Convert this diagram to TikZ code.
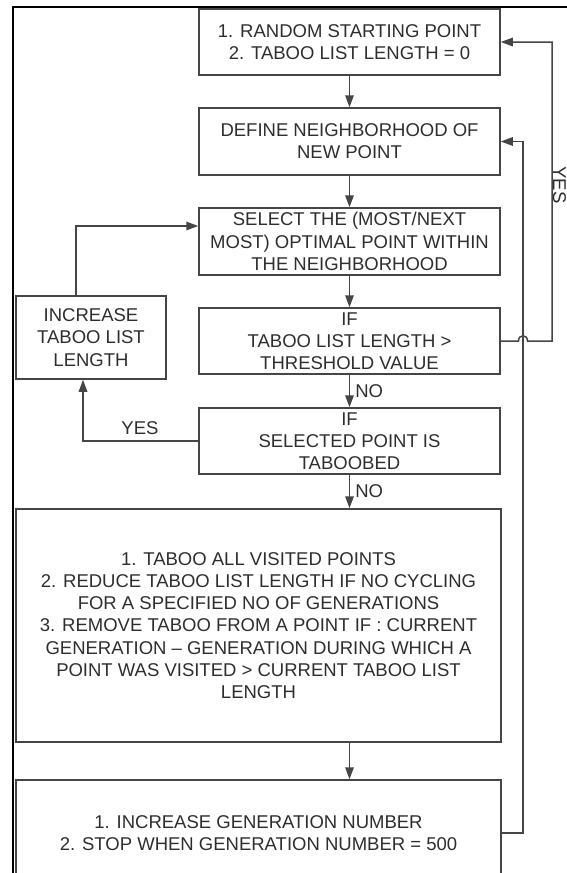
\documentclass[tikz,border=0pt]{standalone}
\usepackage{fontspec}
\setmainfont{Liberation Sans}
\usetikzlibrary{arrows.meta,calc}
\definecolor{boxline}{HTML}{454545}
\definecolor{txt}{HTML}{2E2E2E}
\begin{document}
\begin{tikzpicture}[x=1pt,y=-1pt,
  box/.style={draw=boxline,line width=1.5pt,inner sep=0pt,align=center,text=txt,
    font=\fontsize{18.5}{22.2}\selectfont},
  arr/.style={draw=boxline,line width=1.5pt,-{Triangle[length=12pt,width=8.5pt]}},
  lbl/.style={text=txt,inner sep=0pt,font=\fontsize{18.5}{22.2}\selectfont}]
\useasboundingbox (0,0) rectangle (567,873);
\clip (0,0) rectangle (567,873);
\fill[white] (0,0) rectangle (567,873);
% frame
\draw[black,line width=2.6pt] (13,873) -- (13,7) -- (567,7);
% boxes
\node[box,minimum width=301pt,minimum height=66pt] (b1) at (349.5,42) {1. RANDOM STARTING POINT\\2. TABOO LIST LENGTH = 0};
\node[box,minimum width=301pt,minimum height=67pt] (b2) at (349.5,141.5) {DEFINE NEIGHBORHOOD OF\\NEW POINT};
\node[box,minimum width=301pt,minimum height=67pt] (b3) at (349.5,241.5) {SELECT THE (MOST/NEXT\\MOST) OPTIMAL POINT WITHIN\\THE NEIGHBORHOOD};
\node[box,minimum width=301pt,minimum height=66pt] (b4) at (349.5,341) {IF\\TABOO LIST LENGTH >\\THRESHOLD VALUE};
\node[box,minimum width=301pt,minimum height=66pt] (b5) at (349.5,441) {IF\\SELECTED POINT IS\\TABOOBED};
\node[box,minimum width=485pt,minimum height=233pt] (b6) at (258.5,625.5) {1. TABOO ALL VISITED POINTS\\2. REDUCE TABOO LIST LENGTH IF NO CYCLING\\FOR A SPECIFIED NO OF GENERATIONS\\3. REMOVE TABOO FROM A POINT IF : CURRENT\\GENERATION -- GENERATION DURING WHICH A\\POINT WAS VISITED > CURRENT TABOO LIST\\LENGTH};
\node[box,minimum width=485pt,minimum height=106pt] (b7) at (258.5,833) {1. INCREASE GENERATION NUMBER\\2. STOP WHEN GENERATION NUMBER = 500};
\node[box,minimum width=150pt,minimum height=83pt] (inc) at (91,337.5) {INCREASE\\TABOO LIST\\LENGTH};
% helper coordinates
\coordinate (lo) at (83,441);
\coordinate (lu) at (76,226);
\coordinate (io) at (523,0);
\coordinate (oo) at (552,0);
% main column
\draw[arr] (b1) -- (b2);
\draw[arr] (b2) -- (b3);
\draw[arr] (b3) -- (b4);
\draw[arr] (b4) -- node[lbl,right,xshift=5pt] (no1) {NO} (b5);
\draw[arr] (b5.south) -- node[lbl,right,xshift=5pt] (no2) {NO} (b5.south |- b6.north);
\draw[arr] (b6.south -| b5.south) -- (b7.north -| b5.south);
% left loop
\draw[arr] (b5.west) -- (b5.west -| lo) -- (inc.south -| lo);
\node[lbl] (yes1) at (140,428) {YES};
\draw[arr] (inc.north -| lu) -- (lu) -- (b3.west |- lu);
% inner loop
\draw[arr] (b7.east) -- (b7.east -| io) -- (b2.east -| io) -- (b2.east);
% outer loop with hop
\draw[arr] (b4.east) -- (518.5,341) .. controls (518.5,334) and (527.5,334) .. (527.5,341) -- (b4.east -| oo) -- (b1.east -| oo) -- (b1.east);
\node[lbl,rotate=-90] (yes2) at (559.5,185) {YES};
\end{tikzpicture}
\end{document}
